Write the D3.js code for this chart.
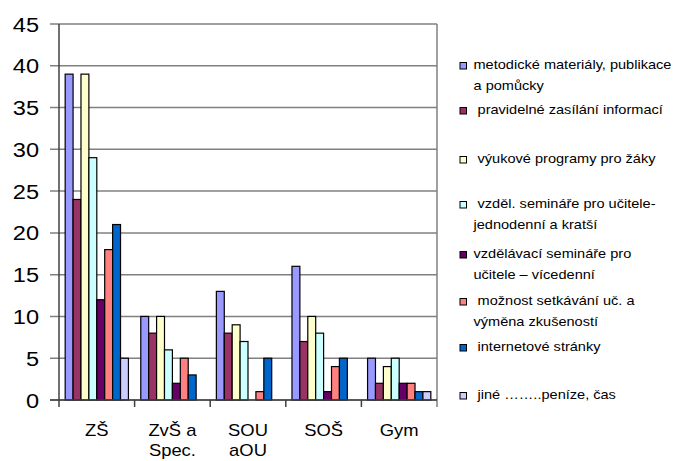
<!DOCTYPE html>
<html>
<head>
<meta charset="utf-8">
<script src="https://cdn.jsdelivr.net/npm/d3@7"></script>
<style>
  body { margin: 0; background: #fff; }
  text { font-family: "Liberation Sans", Arial, sans-serif; fill: #000; white-space: pre; }
</style>
</head>
<body>
<svg id="chart" width="676" height="461"></svg>
<script>
// categories (x axis), each label may wrap on two lines
var categories = ["ZŠ", "ZvŠ a Spec.", "SOU aOU", "SOŠ", "Gym"];
var categoryLines = [["ZŠ"], ["ZvŠ a", "Spec."], ["SOU", "aOU"], ["SOŠ"], ["Gym"]];

var seriesNames = [
    "metodické materiály, publikace a pomůcky",
    "pravidelné zasílání informací",
    "výukové programy pro žáky",
    "vzděl. semináře pro učitele- jednodenní a kratší",
    "vzdělávací semináře pro učitele – vícedenní",
    "možnost setkávání uč. a výměna zkušeností",
    "internetové stránky",
    "jiné ……..peníze, čas"
];
var legendLines = [
    ["metodické materiály, publikace", "a pomůcky"],
    [" pravidelné zasílání informací"],
    [" výukové programy pro žáky"],
    [" vzděl. semináře pro učitele-", "jednodenní a kratší"],
    ["vzdělávací semináře pro", "učitele – vícedenní"],
    [" možnost setkávání uč. a", "výměna zkušeností"],
    [" internetové stránky"],
    [" jiné ……..peníze, čas"]
];
var colors = ["#9999FF", "#993366", "#FFFFCC", "#CCFFFF", "#660066", "#FF8080", "#0066CC", "#CCCCFF"];

// values per series, one per category
var metodicke   = [39, 10, 13, 16, 5];
var zasilani    = [24, 8, 8, 7, 2];
var vyukove     = [39, 10, 9, 10, 4];
var jednodenni  = [29, 6, 7, 8, 5];
var vicedenni   = [12, 2, 0, 1, 2];
var setkavani   = [18, 5, 1, 4, 2];
var internet    = [21, 3, 5, 5, 1];
var jine        = [5, 0, 0, 0, 1];
var series = [metodicke, zasilani, vyukove, jednodenni, vicedenni, setkavani, internet, jine];

var yTicks = [0, 5, 10, 15, 20, 25, 30, 35, 40, 45];

var svg = d3.select("#chart");
var plot = { left: 59, right: 437, top: 24, bottom: 400 };
var stretch = 1.15; // the text in the picture is a bit wider than plain Arial

var x0 = d3.scaleBand().domain(categories).range([plot.left, plot.right]).paddingInner(0).paddingOuter(0);
var x1 = d3.scaleBand().domain(d3.range(series.length))
    .range([0, x0.bandwidth()]).paddingOuter(0.78).paddingInner(0);
var y = d3.scaleLinear().domain([0, 45]).range([plot.bottom, plot.top]);

// gridlines
svg.append("g").selectAll("line")
    .data(yTicks)
    .enter().append("line")
    .attr("x1", plot.left - 9)
    .attr("x2", plot.right)
    .attr("y1", function(d) { return y(d); })
    .attr("y2", function(d) { return y(d); })
    .style("stroke", "#808080")
    .style("stroke-width", 1.5);

// right border of plot
svg.append("line")
    .attr("x1", plot.right).attr("x2", plot.right)
    .attr("y1", plot.top).attr("y2", plot.bottom + 7)
    .style("stroke", "#808080").style("stroke-width", 1.5);

// y tick labels
svg.append("g").selectAll("text")
    .data(yTicks)
    .enter().append("text")
    .attr("transform", function(d) { return "translate(39," + (y(d) + 7.5) + ") scale(" + stretch + ",1)"; })
    .attr("text-anchor", "end")
    .style("font-size", "20.5px")
    .text(function(d) { return d; });

// bars
var groups = svg.append("g").selectAll("g")
    .data(categories)
    .enter().append("g")
    .attr("transform", function(d) { return "translate(" + x0(d) + ",0)"; });

groups.selectAll("rect")
    .data(function(d, ci) { return series.map(function(s, si) { return { si: si, v: s[ci] }; }); })
    .enter().append("rect")
    .filter(function(d) { return d.v > 0; })
    .attr("x", function(d) { return x1(d.si); })
    .attr("width", x1.bandwidth())
    .attr("y", function(d) { return y(d.v); })
    .attr("height", function(d) { return y(0) - y(d.v); })
    .style("fill", function(d) { return colors[d.si]; })
    .style("stroke", "#000")
    .style("stroke-width", 1.2);

// axes lines
svg.append("line")
    .attr("x1", plot.left).attr("x2", plot.left)
    .attr("y1", plot.top).attr("y2", plot.bottom + 7)
    .style("stroke", "#404040").style("stroke-width", 1.5);
svg.append("line")
    .attr("x1", plot.left - 9).attr("x2", plot.right)
    .attr("y1", plot.bottom).attr("y2", plot.bottom)
    .style("stroke", "#404040").style("stroke-width", 1.5);

// category ticks
svg.append("g").selectAll("line")
    .data(categories.slice(1))
    .enter().append("line")
    .attr("x1", function(d) { return x0(d); })
    .attr("x2", function(d) { return x0(d); })
    .attr("y1", plot.bottom).attr("y2", plot.bottom + 7)
    .style("stroke", "#404040").style("stroke-width", 1.5);

// category labels
var catText = svg.append("g").selectAll("text")
    .data(categories)
    .enter().append("text")
    .attr("text-anchor", "middle")
    .style("font-size", "16px")
    .attr("transform", function(d) { return "translate(" + (x0(d) + x0.bandwidth() / 2) + ",436) scale(" + stretch + ",1)"; });
catText.selectAll("tspan")
    .data(function(d, i) { return categoryLines[i]; })
    .enter().append("tspan")
    .attr("x", 0)
    .attr("dy", function(d, i) { return i === 0 ? 0 : 20.5; })
    .text(function(d) { return d; });

// legend
var legendY = [69, 114, 163, 208, 258, 305, 351, 399];
var legend = svg.append("g").selectAll("g")
    .data(seriesNames)
    .enter().append("g")
    .attr("transform", function(d, i) { return "translate(460," + legendY[i] + ")"; });

legend.append("rect")
    .attr("x", 0).attr("y", -6.5)
    .attr("width", 6.5).attr("height", 6.5)
    .style("fill", function(d, i) { return colors[i]; })
    .style("stroke", "#000").style("stroke-width", 1);

var lt = legend.append("text")
    .attr("transform", "translate(13.5,0) scale(1.12,1)")
    .style("font-size", "13px");
lt.selectAll("tspan")
    .data(function(d, i) { return legendLines[i]; })
    .enter().append("tspan")
    .attr("x", 0)
    .attr("dy", function(d, i) { return i === 0 ? 0 : 21; })
    .text(function(d) { return d; });
</script>
</body>
</html>
